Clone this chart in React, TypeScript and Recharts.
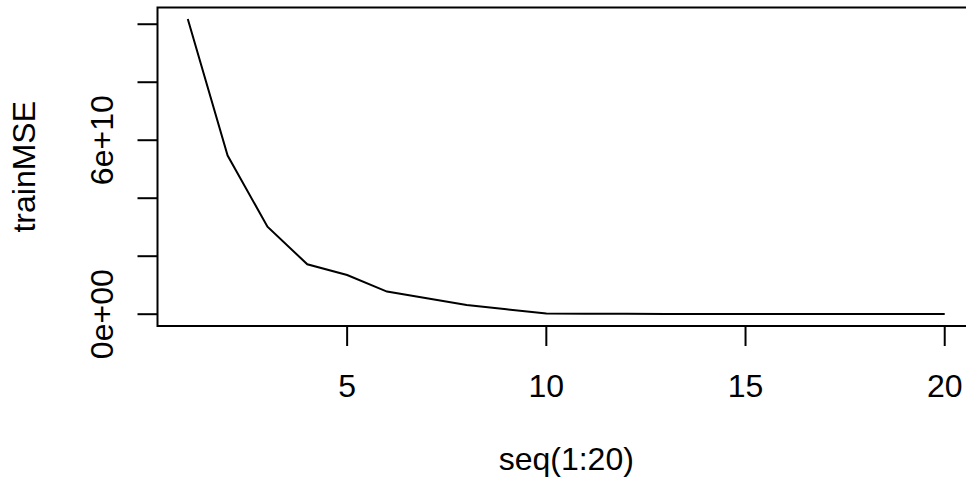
import React from "react";
import { LineChart, Line, XAxis, YAxis, ReferenceArea } from "recharts";

// training error per model size
const seqX = [1, 2, 3, 4, 5, 6, 7, 8, 9, 10, 11, 12, 13, 14, 15, 16, 17, 18, 19, 20];
const trainMSE = [
  1.018e11, 5.47e10, 3.02e10, 1.72e10, 1.35e10, 7.8e9, 5.5e9, 3.2e9, 1.7e9, 2.0e8,
  1.6e8, 1.3e8, 1.1e8, 9e7, 8e7, 7e7, 6e7, 5e7, 4e7, 3e7,
];

const xTicks = [5, 10, 15, 20];
const yTicks = [0, 2e10, 4e10, 6e10, 8e10, 1e11];
const yTickLabels = ["0e+00", "", "", "6e+10", "", ""];

// R pads the data range by 4% on each side
const xDomain = [0.24, 20.76];
const yDomain = [-4.07e9, 1.0577e11];

const data = seqX.map((x, i) => ({ x, mse: trainMSE[i] }));

const FONT = "'Liberation Sans', Arial, Helvetica, sans-serif";
const FS = 32;

const XTick = (props: any) => {
  const { x, y, payload } = props;
  return (
    <text x={x} y={y + 49} textAnchor="middle" fontSize={FS} fontFamily={FONT} fill="#000">
      {payload.value}
    </text>
  );
};

const YTick = (props: any) => {
  const { x, y, payload } = props;
  const idx = yTicks.indexOf(payload.value);
  const label = idx >= 0 ? yTickLabels[idx] : "";
  if (!label) return <g />;
  const bx = x - 22;
  return (
    <text
      x={bx}
      y={y}
      textAnchor="middle"
      fontSize={FS}
      fontFamily={FONT}
      fill="#000"
      transform={`rotate(-90, ${bx}, ${y})`}
    >
      {label}
    </text>
  );
};

const XTitle = (props: any) => {
  const { viewBox } = props;
  const cx = viewBox.x + viewBox.width / 2;
  return (
    <text x={cx} y={470} textAnchor="middle" fontSize={FS} fontFamily={FONT} fill="#000">
      seq(1:20)
    </text>
  );
};

const YTitle = (props: any) => {
  const { viewBox } = props;
  const cy = viewBox.y + viewBox.height / 2;
  return (
    <text
      x={35}
      y={cy}
      textAnchor="middle"
      fontSize={FS}
      fontFamily={FONT}
      fill="#000"
      transform={`rotate(-90, 35, ${cy})`}
    >
      trainMSE
    </text>
  );
};

export default function App() {
  return (
    <div
      style={{
        position: "fixed",
        left: 0,
        top: 0,
        width: 966,
        height: 482,
        overflow: "hidden",
        background: "#fff",
      }}
    >
      <LineChart
        width={1000}
        height={482}
        data={data}
        margin={{ top: 7.5, right: 25, bottom: 0, left: 0 }}
      >
        <XAxis
          dataKey="x"
          type="number"
          domain={xDomain}
          ticks={xTicks}
          allowDataOverflow
          axisLine={false}
          tickLine={{ stroke: "#000", strokeWidth: 2 }}
          tickSize={20}
          height={156}
          tick={XTick}
          label={<XTitle />}
        />
        <YAxis
          type="number"
          domain={yDomain}
          ticks={yTicks}
          allowDataOverflow
          axisLine={false}
          tickLine={{ stroke: "#000", strokeWidth: 2 }}
          tickSize={20}
          width={157.5}
          tick={YTick}
          label={<YTitle />}
        />
        <ReferenceArea
          x1={xDomain[0]}
          x2={xDomain[1]}
          y1={yDomain[0]}
          y2={yDomain[1]}
          fill="none"
          stroke="#000"
          strokeWidth={2}
          ifOverflow="visible"
        />
        <Line
          type="linear"
          dataKey="mse"
          stroke="#000"
          strokeWidth={2}
          dot={false}
          isAnimationActive={false}
        />
      </LineChart>
    </div>
  );
}
